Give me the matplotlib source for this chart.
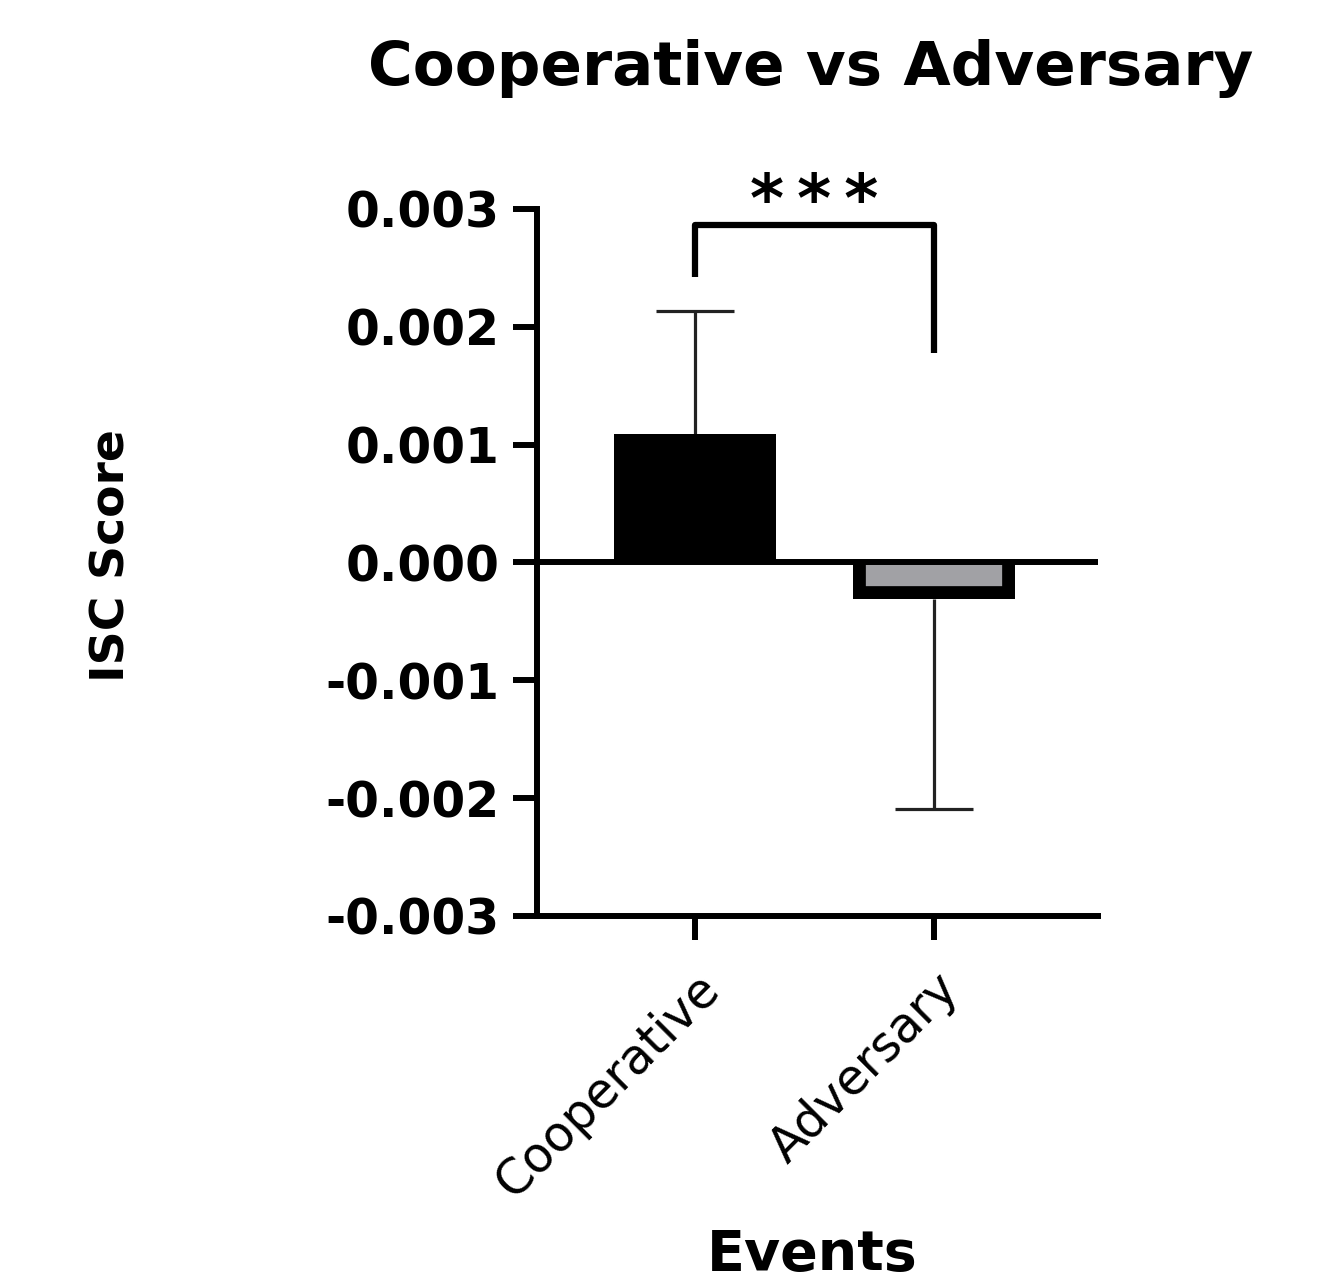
import matplotlib.pyplot as plt
import matplotlib.transforms as mtransforms
import numpy as np

# values
groups = ["Cooperative", "Adversary"]
means = [0.00109, -0.00031]
sds = [0.00104, 0.00178]
bar_colors = ["black", "#a1a1a5"]
yticks = [-0.003, -0.002, -0.001, 0.0, 0.001, 0.002, 0.003]
ytick_labels = ["-0.003", "-0.002", "-0.001", "0.000", "0.001", "0.002", "0.003"]

# significance bracket (left leg end, top, right leg end) and its label
bracket_y = [0.00242, 0.00286, 0.00178]
sig_label = "*\u2009*\u2009*"

fig = plt.figure(figsize=(13.18, 12.85), dpi=100)
ax = fig.add_axes([0.4075, 0.2872, 0.4257, 0.5502])

x = np.arange(len(groups))

# one-sided error bars (away from zero), under the bars
lower = np.array([0 if m >= 0 else s for m, s in zip(means, sds)])
upper = np.array([s if m >= 0 else 0 for m, s in zip(means, sds)])
eb = ax.errorbar(x, means, yerr=[lower, upper], fmt="none", ecolor="#222222",
                 elinewidth=2.3, capsize=28, capthick=2.3, zorder=1)
# drop the caps that sit on the bar end
lo_cap, hi_cap = eb[1]
lo_cap.set_data(x[lower > 0], (np.array(means) - lower)[lower > 0])
hi_cap.set_data(x[upper > 0], (np.array(means) + upper)[upper > 0])

bars = ax.bar(x, means, width=0.675, color=bar_colors, linewidth=0, zorder=2)
# border on the three outer sides, kept inside the bar
for b in bars:
    x0, w, h = b.get_x(), b.get_width(), b.get_height()
    edge, = ax.plot([x0, x0, x0 + w, x0 + w], [0, h, h, 0], color="black",
                    linewidth=18.5, zorder=2.5)
    edge.set_clip_path(b)

ax.axhline(0, color="black", linewidth=4.3, zorder=3)

# bracket
ax.plot([x[0], x[0], x[1], x[1]],
        [bracket_y[0], bracket_y[1], bracket_y[1], bracket_y[2]],
        color="black", linewidth=4.5, solid_capstyle="butt", clip_on=False)
ax.text((x[0] + x[1]) / 2, 0.0029, sig_label, ha="center", va="baseline",
        fontsize=47, fontweight="bold", family="DejaVu Sans")

ax.set_xlim(-0.661, 1.686)
ax.set_ylim(-0.003, 0.003)

for side in ["top", "right"]:
    ax.spines[side].set_visible(False)
for side in ["left", "bottom"]:
    ax.spines[side].set_linewidth(4.3)

ax.set_yticks(yticks)
ax.set_yticklabels(ytick_labels, fontsize=35, fontweight="bold")
ax.set_xticks(x)
ax.set_xticklabels(groups, fontsize=35, rotation=45, ha="right",
                   rotation_mode="anchor")
shift = mtransforms.ScaledTranslation(-10 / 100, 2 / 100, fig.dpi_scale_trans)
for lab in ax.get_xticklabels():
    lab.set_transform(lab.get_transform() + shift)
ax.tick_params(axis="both", length=17, width=4.3, color="black")
ax.tick_params(axis="y", pad=10)
ax.tick_params(axis="x", pad=18)

ax.set_ylabel("ISC Score", fontsize=34, fontweight="bold")
ax.yaxis.set_label_coords(-0.718, 0.51)
ax.set_xlabel("Events", fontsize=40, fontweight="bold")
ax.xaxis.set_label_coords(0.49, -0.5177)
ax.xaxis.label.set_verticalalignment("bottom")

fig.text(0.615, 1 - 68 / 1285, "Cooperative vs Adversary", ha="center",
         va="center", fontsize=44, fontweight="bold")

fig.savefig("out.png", dpi=100)
